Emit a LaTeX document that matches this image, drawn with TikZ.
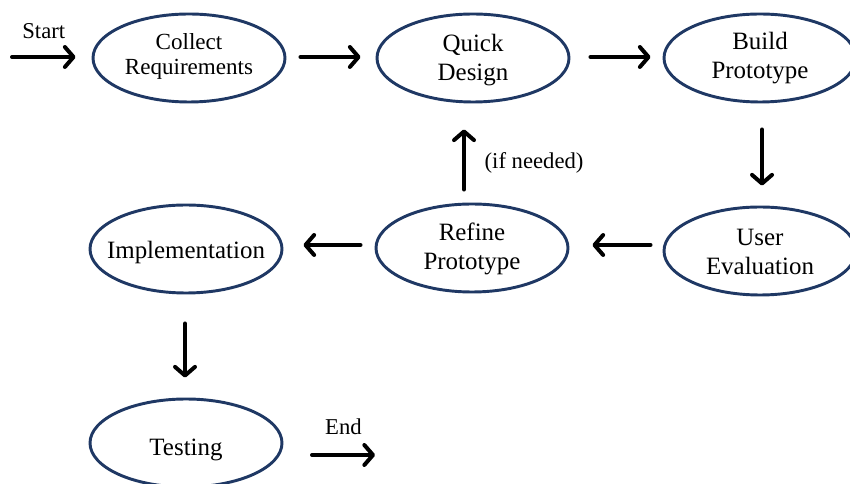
\documentclass[tikz,border=0pt]{standalone}
\usepackage{fontspec}
\setmainfont{Liberation Serif}
\usetikzlibrary{shapes.geometric,arrows.meta,calc}
\definecolor{navy}{HTML}{1F3864}
\newcommand{\dntext}[2]{\raisebox{-#1}[\height][\depth]{\begin{tabular}{@{}c@{}}#2\end{tabular}}}
\begin{document}
\begin{tikzpicture}[x=0.75pt,y=-0.75pt,
  proc/.style={ellipse,draw=navy,line width=2.2pt,inner xsep=-30pt,inner ysep=-15pt,
    minimum width=144pt,minimum height=66pt,
    font=\fontsize{18.7}{22}\selectfont},
  arr/.style={line width=3pt,line cap=round,
    -{Straight Barb[length=6.5pt,width=15pt,line cap=round,round]}},
  lbl/.style={font=\fontsize{17}{19}\selectfont,inner sep=0pt}]
\useasboundingbox (0,0) rectangle (850,484);
\node[proc,font=\fontsize{17.3}{19}\selectfont] (c) at (189,58) {\dntext{-1pt}{Collect\\Requirements}};
\node[proc] (q) at (473,58) {\dntext{1.5pt}{Quick\\Design}};
\node[proc] (b) at (760,58) {\dntext{0pt}{Build\\Prototype}};
\node[proc] (u) at (760,251) {\dntext{2.5pt}{User\\Evaluation}};
\node[proc] (r) at (472,248) {\dntext{0.7pt}{Refine\\Prototype}};
\node[proc] (i) at (186,249) {\dntext{2.5pt}{Implementation}};
\node[proc] (t) at (186,443) {\dntext{5pt}{Testing}};
\coordinate (s0) at (12,57);
\coordinate (e1) at (375,455);
\draw[arr] (s0) -- ($(c.west)+(-16,-1)$) node[lbl,midway,above=12pt] {Start};
\draw[arr] ($(c.east)+(14,-1)$) -- ($(q.west)+(-15,-1)$);
\draw[arr] ($(q.east)+(20,-1)$) -- ($(b.west)+(-12,-1)$);
\draw[arr] ($(b.south)+(2,26)$) -- ($(u.north)+(2,-20)$);
\draw[arr] ($(u.west)+(-12,-6)$) -- ($(r.east)+(23,-3)$);
\draw[arr] ($(r.west)+(-14,-3)$) -- ($(i.east)+(20,-4)$);
\draw[arr] ($(r.north)+(-8,-13)$) -- ($(q.south)+(-9,26)$)
  node[lbl,pos=0.44,right=14pt] {(if needed)};
\draw[arr] ($(i.south)+(-1,29)$) -- ($(t.north)+(-1,-20)$);
\draw[arr] ($(e1)+(-63,0)$) -- (e1) node[lbl,midway,above=14pt] {End};
\end{tikzpicture}
\end{document}
